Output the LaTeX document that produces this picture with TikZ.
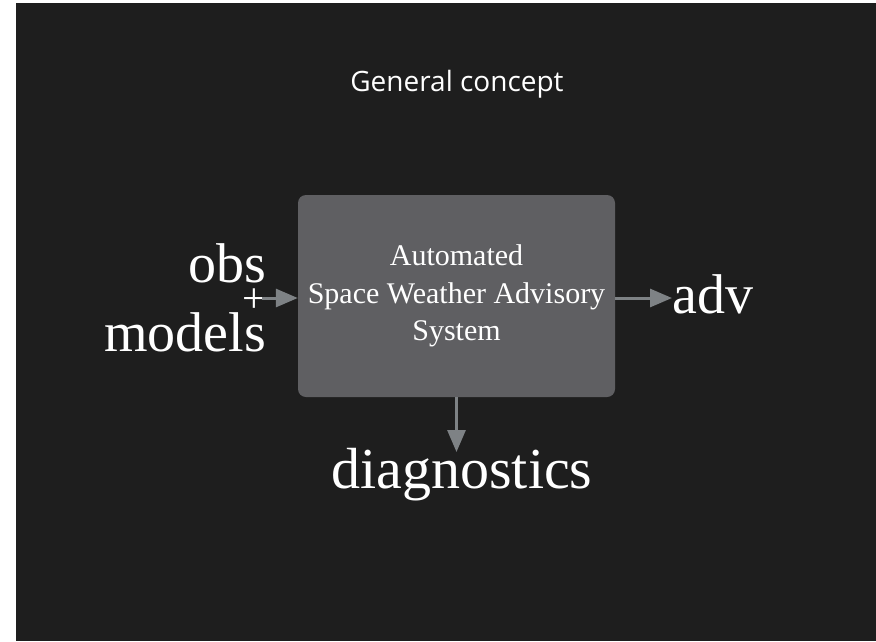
\documentclass[tikz,border=0pt]{standalone}
\usepackage{fontspec}
\setmainfont{Liberation Serif}
\newfontfamily\titlefont{Open Sans}
\usetikzlibrary{arrows.meta}
\definecolor{bgdark}{HTML}{1E1E1E}
\definecolor{boxgray}{HTML}{5F5F62}
\definecolor{arrgray}{HTML}{7E8285}
\tikzset{
  arr/.style={draw=arrgray, line width=3pt, -{Triangle[length=22pt,width=18pt]}},
  sysbox/.style={fill=boxgray, rounded corners=8pt, minimum width=317pt, minimum height=202pt, inner sep=0pt, align=center, text=white, font=\fontsize{30}{37.7}\selectfont},
  biglabel/.style={text=white, inner sep=0pt, font=\fontsize{56}{60}\selectfont},
  titlestyle/.style={text=white, inner sep=0pt, font=\titlefont\fontsize{28}{32}\selectfont}
}
\begin{document}
\begin{tikzpicture}[x=1pt,y=-1pt]
\useasboundingbox (0,0) rectangle (876,641);
\fill[white] (0,0) rectangle (876,641);
\fill[bgdark] (16,3) rectangle (876,641);
\node[titlestyle, anchor=base] (title) at (457,91) {General concept};
\node[sysbox] (sys) at (456.5,296) {Automated\\Space Weather Advisory\\System};
\node[biglabel, anchor=base east] (obs) at (266,282) {obs};
\node[biglabel, anchor=base east] (models) at (266,351) {models};
\node[text=white, inner sep=0pt, font=\fontsize{42}{46}\selectfont] (plus) at (254,301) {+};
\node[biglabel, anchor=base west] (adv) at (672,313) {adv};
\node[biglabel, anchor=base, font=\fontsize{58}{62}\selectfont] (diag) at (462,488) {diagnostics};
\coordinate (ain) at (262,298);
\coordinate (dtip) at (456.5,452);
\draw[arr] (ain) -- (ain -| sys.west);
\draw[arr] (sys.east |- ain) -- (adv.west |- ain);
\draw[arr] (sys.south) -- (dtip);
\end{tikzpicture}
\end{document}
